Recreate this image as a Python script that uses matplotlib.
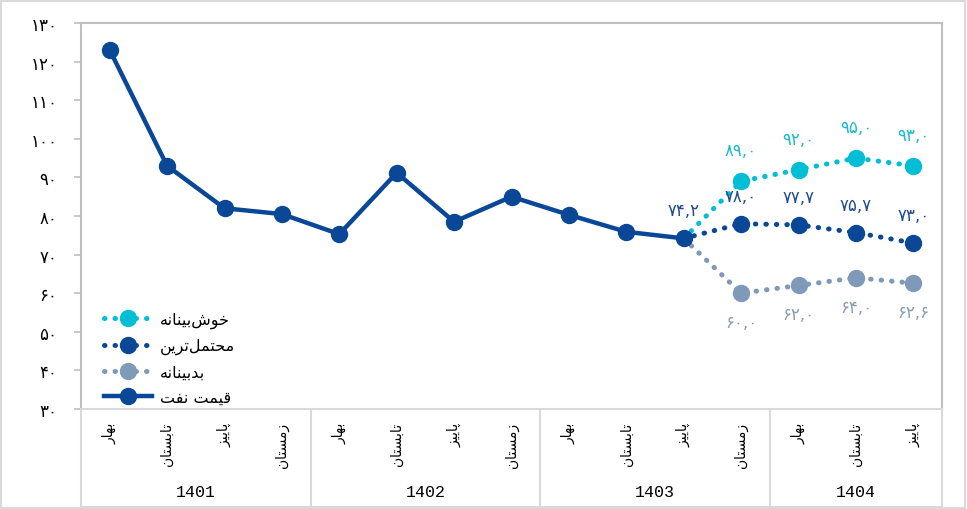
# قیمت نفت - سناریوهای پیش‌بینی

import numpy as np
import matplotlib
matplotlib.use('Agg')
import matplotlib.pyplot as plt
from matplotlib.lines import Line2D
from matplotlib.patches import Rectangle
from matplotlib import font_manager, ft2font

# ---- data ----
years = ['1401', '1402', '1403', '1404']
seasons = ['بهار', 'تابستان', 'پاییز', 'زمستان',
           'بهار', 'تابستان', 'پاییز', 'زمستان',
           'بهار', 'تابستان', 'پاییز', 'زمستان',
           'بهار', 'تابستان', 'پاییز']
price = [123.0, 93.0, 82.0, 80.5, 75.3, 91.2, 78.5, 85.0, 80.3, 75.9, 74.2]
optimistic = [74.2, 89.0, 92.0, 95.0, 93.0]
likely = [74.2, 78.0, 77.7, 75.7, 73.0]
pessimistic = [74.2, 60.0, 62.0, 64.0, 62.6]
series_names = ['خوش‌بینانه', 'محتمل‌ترین', 'بدبینانه', 'قیمت نفت']

# ---- simple persian shaping (matplotlib has no RTL / joining) ----
_cmap = ft2font.FT2Font(font_manager.findfont('DejaVu Sans')).get_charmap()

FORMS = {
    'ا': ('\uFE8D', '\uFE8E', None, None),
    'ب': ('\uFE8F', '\uFE90', '\uFE91', '\uFE92'),
    'پ': ('\uFB56', '\uFB57', '\uFB58', '\uFB59'),
    'ت': ('\uFE95', '\uFE96', '\uFE97', '\uFE98'),
    'ح': ('\uFEA1', '\uFEA2', '\uFEA3', '\uFEA4'),
    'خ': ('\uFEA5', '\uFEA6', '\uFEA7', '\uFEA8'),
    'د': ('\uFEA9', '\uFEAA', None, None),
    'ر': ('\uFEAD', '\uFEAE', None, None),
    'ز': ('\uFEAF', '\uFEB0', None, None),
    'س': ('\uFEB1', '\uFEB2', '\uFEB3', '\uFEB4'),
    'ش': ('\uFEB5', '\uFEB6', '\uFEB7', '\uFEB8'),
    'ف': ('\uFED1', '\uFED2', '\uFED3', '\uFED4'),
    'ق': ('\uFED5', '\uFED6', '\uFED7', '\uFED8'),
    'ل': ('\uFEDD', '\uFEDE', '\uFEDF', '\uFEE0'),
    'م': ('\uFEE1', '\uFEE2', '\uFEE3', '\uFEE4'),
    'ن': ('\uFEE5', '\uFEE6', '\uFEE7', '\uFEE8'),
    'ه': ('\uFEE9', '\uFEEA', '\uFEEB', '\uFEEC'),
    'و': ('\uFEED', '\uFEEE', None, None),
    'ی': ('\uFBFC', '\uFBFD', '\uFBFE', '\uFBFF'),
}
if 0xFBFC not in _cmap:
    FORMS['ی'] = ('\uFEEF', '\uFEF0', '\uFEF3', '\uFEF4')
if 0xFB56 not in _cmap:
    FORMS['پ'] = FORMS['ب']

def joins_next(c):
    return c in FORMS and FORMS[c][2] is not None

def fa(s):
    out = []
    for i, c in enumerate(s):
        if c not in FORMS:
            if c != '\u200c':
                out.append(c)
            continue
        prev_j = i > 0 and joins_next(s[i-1])
        next_j = i < len(s) - 1 and s[i+1] in FORMS and joins_next(c)
        iso, fin, ini, med = FORMS[c]
        if prev_j and next_j:
            out.append(med)
        elif prev_j:
            out.append(fin)
        elif next_j:
            out.append(ini)
        else:
            out.append(iso)
    return ''.join(out[::-1])

FA_DIGITS = str.maketrans('0123456789', '۰۱۲۳۴۵۶۷۸۹')

def fa_num(v, fmt='{:.1f}'):
    return fmt.format(v).replace('.', ',').translate(FA_DIGITS)

# ---- plot ----
c_price = '#0A4796'
c_opt = '#00BED6'
c_pess = '#7F99B8'
grey = '#BFBFBF'
light = '#D9D9D9'

fig = plt.figure(figsize=(9.67, 5.10), dpi=100)
ax = fig.add_axes([81/967, 100/510, 861/967, 386/510])

x_all = np.arange(len(seasons))
x_price = x_all[:len(price)]
x_fc = x_all[len(price)-1:]

dots = dict(linestyle=(0, (0.1, 2.0)), linewidth=3.6, dash_capstyle='round')
ax.plot(x_fc, pessimistic, color=c_pess, zorder=2, **dots)
ax.plot(x_fc, likely, color=c_price, zorder=3, **dots)
ax.plot(x_fc, optimistic, color=c_opt, zorder=3, **dots)
ax.plot(x_fc[1:], pessimistic[1:], 'o', color=c_pess, ms=11.5, zorder=4)
ax.plot(x_fc[1:], likely[1:], 'o', color=c_price, ms=11.5, zorder=4)
ax.plot(x_fc[1:], optimistic[1:], 'o', color=c_opt, ms=11.5, zorder=4)
ax.plot(x_price, price, '-o', color=c_price, lw=3.2, ms=11.5, zorder=5)

# data labels
for xi, v in zip(x_fc[1:], optimistic[1:]):
    ax.annotate(fa_num(v), (xi, v), xytext=(0, 31), textcoords='offset pixels',
                ha='center', va='center', color='#1EB9D0', fontsize=12)
for xi, v in zip(x_fc, likely):
    ax.annotate(fa_num(v), (xi, v), xytext=(0, 28), textcoords='offset pixels',
                ha='center', va='center', color='#1F4C8F', fontsize=12)
for xi, v in zip(x_fc[1:], pessimistic[1:]):
    ax.annotate(fa_num(v), (xi, v), xytext=(0, -29), textcoords='offset pixels',
                ha='center', va='center', color='#8A9DB8', fontsize=12)

ax.set_xlim(-0.5, len(seasons) - 0.5)
ax.set_ylim(30, 130)
yt = np.arange(30, 131, 10)
ax.set_yticks(yt)
ax.set_yticklabels([str(v).translate(FA_DIGITS) for v in yt], fontsize=12)
ax.tick_params(axis='y', length=5, color=grey, width=1.2, pad=12)
ax.set_xticks(x_all)
ax.set_xticklabels([fa(s) for s in seasons], rotation=90, fontsize=10, va='top')
ax.tick_params(axis='x', length=0, pad=9)

for side in ['left', 'top', 'right']:
    ax.spines[side].set_color(grey)
    ax.spines[side].set_linewidth(1.5)
ax.spines['bottom'].set_color(light)
ax.spines['bottom'].set_linewidth(1.5)

# category table below the axis
yb = -98 / 386
for xs in [-0.5, 3.5, 7.5, 11.5, len(seasons) - 0.5]:
    ax.plot([xs, xs], [0, yb], color=light, lw=1.5, clip_on=False,
            transform=ax.get_xaxis_transform())
ax.plot([-0.5, len(seasons) - 0.5], [yb, yb], color=light, lw=1.5, clip_on=False,
        transform=ax.get_xaxis_transform())
centers = [1.5, 5.5, 9.5, 13.0]
for cx, yr in zip(centers, years):
    ax.text(cx, -83 / 386, yr, transform=ax.get_xaxis_transform(),
            ha='center', va='center', fontsize=12, family='Liberation Mono')

# legend
handles = [
    Line2D([], [], color=c_opt, marker='o', ms=11.5, **dots),
    Line2D([], [], color=c_price, marker='o', ms=11.5, **dots),
    Line2D([], [], color=c_pess, marker='o', ms=11.5, **dots),
    Line2D([], [], color=c_price, marker='o', ms=11.5, lw=3.2),
]
ax.legend(handles, [fa(s) for s in series_names], loc='lower left',
          bbox_to_anchor=(0.01, -0.025), frameon=False, fontsize=11.5,
          handlelength=3.0, handletextpad=0.5, labelspacing=0.62)

fig.patches.append(Rectangle((0.001, 0.002), 0.997, 0.995, transform=fig.transFigure,
                             fill=False, edgecolor=light, lw=1.5))

fig.savefig('out.png', dpi=100)
plt.close()
